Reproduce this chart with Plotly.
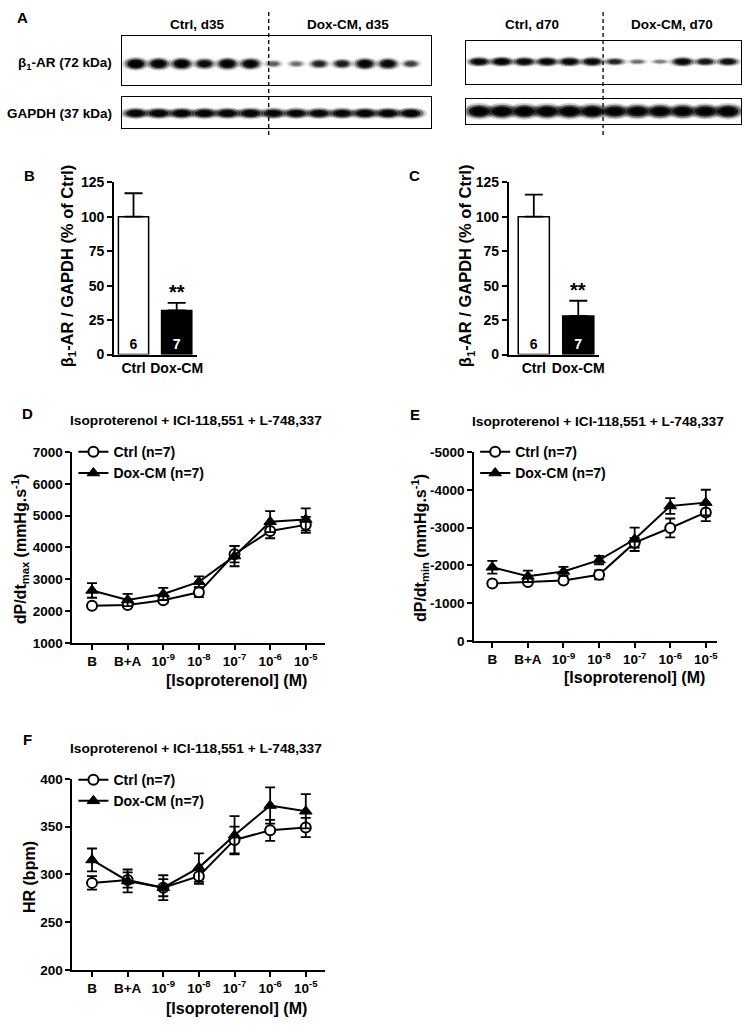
import plotly.graph_objects as go

W, H = 750, 1027

# ---------------- data ----------------
# Western blot band intensities (relative, 0-1), one value per lane
blot_d35_b1 = [1.0, 0.95, 0.95, 0.8, 0.95, 0.9, 0.35, 0.3, 0.6, 0.65, 0.9, 0.85, 0.45]
blot_d35_gapdh = [0.9, 0.92, 0.92, 0.92, 0.92, 0.92, 0.88, 0.88, 0.88, 0.88, 0.92, 0.92, 0.92]
blot_d70_b1 = [0.85, 0.9, 0.85, 0.85, 0.85, 0.85, 0.6, 0.3, 0.25, 0.85, 0.7, 0.75]
blot_d70_gapdh = [1.0, 1.0, 1.0, 1.0, 1.0, 1.0, 0.95, 0.95, 0.95, 0.95, 0.95, 1.0]
n_ctrl_lanes_d35 = 6
n_ctrl_lanes_d70 = 6

bar_groups = ["Ctrl", "Dox-CM"]
bar_n = [6, 7]
b_mean = [100, 32]
b_sem = [17, 5.5]
c_mean = [100, 28]
c_sem = [16, 11]

conc_labels = ["B", "B+A", "10<sup>-9</sup>", "10<sup>-8</sup>", "10<sup>-7</sup>",
               "10<sup>-6</sup>", "10<sup>-5</sup>"]

d_ctrl = [2170, 2190, 2340, 2590, 3790, 4520, 4710]
d_ctrl_err = [60, 60, 80, 150, 260, 230, 250]
d_dox = [2650, 2350, 2540, 2920, 3730, 4810, 4880]
d_dox_err = [230, 190, 190, 170, 320, 330, 350]

e_ctrl = [-1520, -1560, -1600, -1750, -2600, -2990, -3400]
e_ctrl_err = [50, 60, 60, 120, 130, 250, 230]
e_dox = [-1950, -1710, -1840, -2140, -2690, -3570, -3660]
e_dox_err = [170, 150, 120, 110, 310, 210, 340]

f_ctrl = [291, 294, 286, 298, 336, 346, 349]
f_ctrl_err = [7, 8, 9, 8, 14, 11, 10]
f_dox = [315, 293, 286, 307, 341, 372, 366]
f_dox_err = [12, 12, 13, 15, 20, 19, 18]

# ---------------- helpers ----------------
FONT = "Liberation Sans, Arial, sans-serif"


def px(x):
    return x / W


def py(y):
    return 1 - y / H


fig = go.Figure()
shapes = []
annotations = []


def add_blot(xa, ya, intens, yc, half_w, half_h):
    lanes = list(range(len(intens)))
    fig.add_trace(go.Scatter(x=lanes, y=[yc] * len(lanes), mode="markers",
                             marker=dict(opacity=0), hoverinfo="skip",
                             showlegend=False, xaxis=xa, yaxis=ya))
    for i, v in zip(lanes, intens):
        for scale, op in [(1.3, 0.2), (1.05, 0.45), (0.8, 0.8), (0.55, 0.95)]:
            hw = half_w * scale * (0.7 + 0.3 * v)
            hh = half_h * scale * (0.45 + 0.55 * v)
            shapes.append(dict(type="circle", xref=xa, yref=ya,
                               x0=i - hw, x1=i + hw, y0=yc - hh, y1=yc + hh,
                               fillcolor="black", opacity=min(1.0, op * v),
                               line=dict(width=0), layer="above"))


add_blot("x", "y", blot_d35_b1, 56.7, 0.45, 5.5)
add_blot("x2", "y2", blot_d35_gapdh, 107, 0.55, 5.0)
add_blot("x3", "y3", blot_d70_b1, 54.5, 0.5, 4.5)
add_blot("x4", "y4", blot_d70_gapdh, 105, 0.58, 6.5)

# dashed separators
dash_style = dict(color="black", width=1.3, dash="4px,3px")
shapes.append(dict(type="line", xref="x", yref="paper",
                   x0=n_ctrl_lanes_d35 - 0.2, x1=n_ctrl_lanes_d35 - 0.2,
                   y0=py(129), y1=py(4), line=dash_style))
shapes.append(dict(type="line", xref="x3", yref="paper",
                   x0=n_ctrl_lanes_d70 - 0.52, x1=n_ctrl_lanes_d70 - 0.52,
                   y0=py(129), y1=py(4), line=dash_style))

# ---------------- bar panels ----------------
for xa, ya, mean, sem in [("x5", "y5", b_mean, b_sem), ("x6", "y6", c_mean, c_sem)]:
    fig.add_trace(go.Bar(
        x=bar_groups, y=mean, width=0.7,
        marker=dict(color=["white", "black"], line=dict(color="black", width=1.5)),
        error_y=dict(type="data", symmetric=False, array=sem, arrayminus=[0, 0],
                     color="black", thickness=1.8, width=9),
        text=[str(n) for n in bar_n], textposition="inside", insidetextanchor="start",
        textfont=dict(color=["black", "white"], size=14, family=FONT, weight="bold"),
        showlegend=False, hoverinfo="skip", xaxis=xa, yaxis=ya))
    annotations.append(dict(xref=xa, yref=ya, x=bar_groups[1], y=mean[1] + sem[1],
                            text="**", showarrow=False, yanchor="bottom", yshift=-2,
                            font=dict(size=20, family=FONT, weight="bold")))

# ---------------- line panels ----------------
xs = list(range(len(conc_labels)))
line_panels = [
    ("x7", "y7", "legend", d_ctrl, d_ctrl_err, d_dox, d_dox_err),
    ("x8", "y8", "legend2", e_ctrl, e_ctrl_err, e_dox, e_dox_err),
    ("x9", "y9", "legend3", f_ctrl, f_ctrl_err, f_dox, f_dox_err),
]
for xa, ya, lg, c, ce, dx, de in line_panels:
    fig.add_trace(go.Scatter(
        x=xs, y=c, mode="lines+markers", name="Ctrl (n=7)",
        line=dict(color="black", width=2),
        marker=dict(symbol="circle", size=10, color="white", line=dict(color="black", width=2)),
        error_y=dict(type="data", array=ce, color="black", thickness=1.8, width=5),
        legend=lg, xaxis=xa, yaxis=ya, hoverinfo="skip"))
    fig.add_trace(go.Scatter(
        x=xs, y=dx, mode="lines+markers", name="Dox-CM (n=7)",
        line=dict(color="black", width=2),
        marker=dict(symbol="triangle-up", size=11, color="black", line=dict(color="black", width=1)),
        error_y=dict(type="data", array=de, color="black", thickness=1.8, width=5),
        legend=lg, xaxis=xa, yaxis=ya, hoverinfo="skip"))

# ---------------- axes ----------------
blot_ax = dict(showline=True, mirror=True, linecolor="black", linewidth=1,
               showticklabels=False, showgrid=False, zeroline=False, ticks="",
               fixedrange=True)
tickfont = dict(size=13.5, family=FONT, weight="bold", color="black")
data_ax = dict(showline=True, linecolor="black", linewidth=2, showgrid=False,
               zeroline=False, ticks="outside", ticklen=5, tickwidth=2, tickcolor="black",
               tickfont=tickfont)

lay = {}
lay["xaxis"] = dict(blot_ax, domain=[px(123), px(434)], range=[-0.6, 12.86], anchor="y")
lay["yaxis"] = dict(blot_ax, domain=[py(78), py(28)], range=[78, 28], anchor="x")
lay["xaxis2"] = dict(blot_ax, domain=[px(123), px(434)], range=[-0.6, 12.86], anchor="y2")
lay["yaxis2"] = dict(blot_ax, domain=[py(122), py(90)], range=[122, 90], anchor="x2")
lay["xaxis3"] = dict(blot_ax, domain=[px(470), px(747)], range=[-0.57, 11.58], anchor="y3")
lay["yaxis3"] = dict(blot_ax, domain=[py(77), py(34)], range=[77, 34], anchor="x3")
lay["xaxis4"] = dict(blot_ax, domain=[px(470), px(747)], range=[-0.57, 11.58], anchor="y4")
lay["yaxis4"] = dict(blot_ax, domain=[py(118), py(92)], range=[118, 92], anchor="x4")

bar_font = dict(size=14, family=FONT, weight="bold", color="black")
bar_y = dict(data_ax, range=[0, 125], tickvals=[0, 25, 50, 75, 100, 125], tickfont=bar_font)
bar_x = dict(data_ax, type="category", ticks="", ticklen=0, tickfont=bar_font)
lay["xaxis5"] = dict(bar_x, domain=[px(115), px(199)], range=[-0.45, 1.48], anchor="y5")
lay["yaxis5"] = dict(bar_y, domain=[py(352), py(177)], anchor="x5")
lay["xaxis6"] = dict(bar_x, domain=[px(513), px(604)], range=[-0.56, 1.47], anchor="y6")
lay["yaxis6"] = dict(bar_y, domain=[py(352), py(177)], anchor="x6")

line_x = dict(data_ax, tickvals=xs, ticktext=conc_labels)
lay["xaxis7"] = dict(line_x, domain=[px(73), px(328)], range=[-0.55, 6.55], anchor="y7")
lay["yaxis7"] = dict(data_ax, domain=[py(645), py(451)], range=[1000, 7000],
                     tickvals=[1000, 2000, 3000, 4000, 5000, 6000, 7000], anchor="x7")
lay["xaxis8"] = dict(line_x, domain=[px(478), px(723)], range=[-0.51, 6.32], anchor="y8")
e_ticks = [0, -1000, -2000, -3000, -4000, -5000]
lay["yaxis8"] = dict(data_ax, domain=[py(643), py(451)], range=[0, -5000],
                     tickvals=e_ticks, ticktext=[str(t) for t in e_ticks], anchor="x8")
lay["xaxis9"] = dict(line_x, domain=[px(73), px(328)], range=[-0.55, 6.55], anchor="y9")
lay["yaxis9"] = dict(data_ax, domain=[py(977), py(783)], range=[200, 400],
                     tickvals=[200, 250, 300, 350, 400], anchor="x9")

leg = dict(bgcolor="rgba(0,0,0,0)", borderwidth=0, xanchor="left", yanchor="top",
           font=dict(size=14, family=FONT, weight="bold", color="black"),
           tracegroupgap=0, itemclick=False, itemdoubleclick=False)
lay["legend"] = dict(leg, x=px(74), y=py(435))
lay["legend2"] = dict(leg, x=px(479), y=py(435))
lay["legend3"] = dict(leg, x=px(74), y=py(768))


# ---------------- text annotations ----------------
def txt(x, y, s, size=14, angle=0, xanchor="center"):
    annotations.append(dict(xref="paper", yref="paper", x=px(x), y=py(y), text=s,
                            showarrow=False, textangle=angle, xanchor=xanchor,
                            yanchor="middle",
                            font=dict(size=size, family=FONT, weight="bold", color="black")))


# panel letters
txt(23, 10, "A", 15)
txt(30, 170, "B", 15)
txt(418, 170, "C", 15)
txt(28, 412, "D", 15)
txt(418, 413, "E", 15)
txt(28, 743, "F", 15)

# blot labels
txt(199, 17, "Ctrl, d35", 13.5)
txt(351, 17, "Dox-CM, d35", 13.5)
txt(536, 17, "Ctrl, d70", 13.5)
txt(677, 17, "Dox-CM, d70", 13.5)
txt(115, 56, "β<sub>1</sub>-AR (72 kDa)", 13.5, xanchor="right")
txt(115, 107, "GAPDH (37 kDa)", 13.5, xanchor="right")

# bar y titles
txt(68, 262, "β<sub>1</sub>-AR / GAPDH (% of Ctrl)", 16.5, -90)
txt(470, 262, "β<sub>1</sub>-AR / GAPDH (% of Ctrl)", 16.5, -90)

# line panel titles
title = "Isoproterenol + ICI-118,551 + L-748,337"
txt(198, 419, title, 13.7)
txt(603, 420, title, 13.7)
txt(198, 752, title, 13.7)

# line y titles
txt(21, 549, "dP/dt<sub>max</sub> (mmHg.s<sup>-1</sup>)", 16, -90)
txt(424, 549, "dP/dt<sub>min</sub> (mmHg.s<sup>-1</sup>)", 16, -90)
txt(29, 883, "HR (bpm)", 16, -90)

# x titles
xt = "[Isoproterenol] (M)"
txt(238, 683, xt, 16)
txt(640, 680, xt, 16)
txt(238, 1016, xt, 16)

fig.update_layout(
    width=W, height=H, margin=dict(l=0, r=0, t=0, b=0),
    paper_bgcolor="white", plot_bgcolor="white",
    font=dict(family=FONT, size=13, color="black", weight="bold"),
    shapes=shapes, annotations=annotations, bargap=0.3,
    **lay,
)

fig.write_html("out.html", config={"displayModeBar": False},
               post_script="document.body.style.margin='0';document.body.style.padding='0';")
